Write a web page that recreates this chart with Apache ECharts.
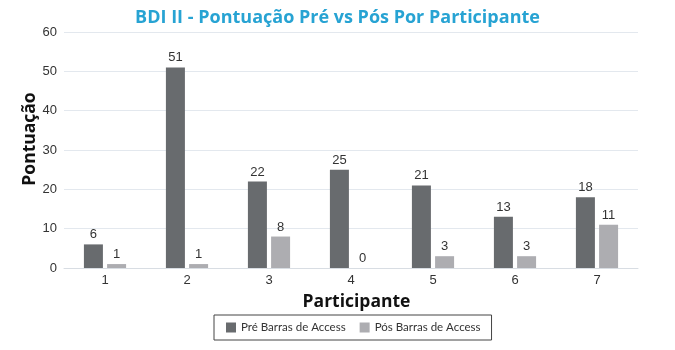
<!DOCTYPE html>
<html>
<head>
<meta charset="utf-8">
<script src="https://cdn.jsdelivr.net/npm/echarts@6/dist/echarts.min.js"></script>
<style>
  html, body { margin: 0; padding: 0; background: #ffffff; }
  #chart { width: 675px; height: 350px; }
</style>
</head>
<body>
<div id="chart"></div>
<script>
// Participants and BDI II scores before / after Access Bars sessions
const participants = ['1', '2', '3', '4', '5', '6', '7'];
const preScores = [6, 51, 22, 25, 21, 13, 18];
const postScores = [1, 1, 8, 0, 3, 3, 11];
const seriesNames = ['Pré Barras de Access', 'Pós Barras de Access'];
const yTicks = { min: 0, max: 60, interval: 10 };
const yAxisTitle = 'Pontuação';

const chart = echarts.init(document.getElementById('chart'), null, { renderer: 'canvas' });

const labelStyle = {
  show: true,
  position: 'top',
  color: '#333333',
  fontFamily: 'Liberation Sans, Arial, sans-serif',
  fontSize: 13,
  distance: 3
};

chart.setOption({
  backgroundColor: '#ffffff',
  animation: false,
  title: {
    text: 'BDI II - Pontuação Pré vs Pós Por Participante',
    left: 'center',
    top: 4,
    textStyle: {
      color: '#27a3d3',
      fontFamily: 'Open Sans, sans-serif',
      fontWeight: 'bold',
      fontSize: 18
    }
  },
  legend: {
    data: seriesNames,
    bottom: 10,
    left: 214,
    itemWidth: 10,
    itemHeight: 10,
    itemGap: 14,
    borderColor: '#444444',
    borderWidth: 1,
    padding: [6.5, 11, 6.5, 12],
    icon: 'rect',
    textStyle: {
      color: '#333333',
      fontFamily: 'Lato, sans-serif',
      fontSize: 11.5
    }
  },
  // vertical axis title, placed beside the value labels
  graphic: [{
    type: 'text',
    x: 30,
    y: 139,
    rotation: Math.PI / 2,
    style: {
      text: yAxisTitle,
      fill: '#111111',
      font: 'bold 17.5px "Open Sans", sans-serif',
      align: 'center',
      verticalAlign: 'middle'
    }
  }],
  grid: {
    left: 64,
    right: 37,
    top: 32,
    bottom: 82
  },
  xAxis: {
    type: 'category',
    data: participants,
    name: 'Participante',
    nameLocation: 'middle',
    nameGap: 25,
    nameTextStyle: {
      color: '#111111',
      fontFamily: 'Open Sans, sans-serif',
      fontWeight: 'bold',
      fontSize: 17.5,
      padding: [0, 0, 0, 11]
    },
    axisLine: { lineStyle: { color: '#d8dde3' } },
    axisTick: { show: false },
    axisLabel: {
      color: '#333333',
      fontFamily: 'Liberation Sans, Arial, sans-serif',
      fontSize: 13,
      margin: 6
    }
  },
  yAxis: {
    type: 'value',
    min: yTicks.min,
    max: yTicks.max,
    interval: yTicks.interval,
    axisLine: { show: false },
    axisTick: { show: false },
    splitLine: { lineStyle: { color: '#e3e8ee' } },
    axisLabel: {
      color: '#333333',
      fontFamily: 'Liberation Sans, Arial, sans-serif',
      fontSize: 13,
      margin: 7
    }
  },
  series: [
    {
      name: seriesNames[0],
      type: 'bar',
      data: preScores,
      barWidth: 19,
      barGap: '22%',
      itemStyle: { color: '#686b6e' },
      label: labelStyle
    },
    {
      name: seriesNames[1],
      type: 'bar',
      data: postScores,
      barWidth: 19,
      itemStyle: { color: '#adadb1' },
      label: labelStyle
    }
  ]
});
</script>
</body>
</html>
